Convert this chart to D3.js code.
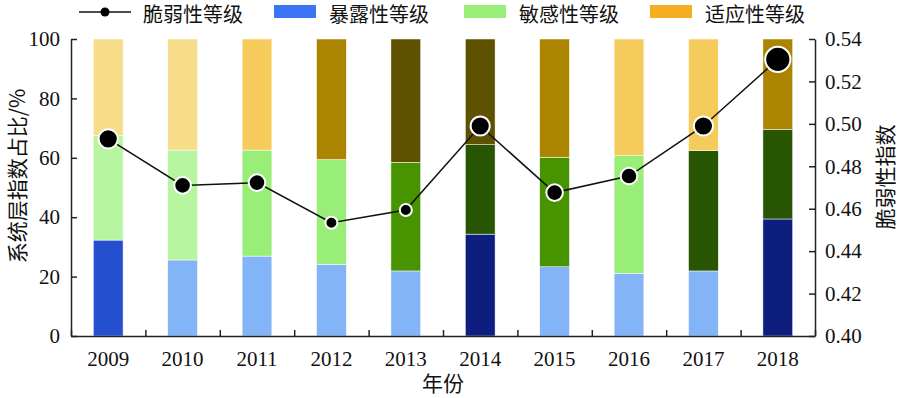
<!DOCTYPE html>
<html>
<head>
<meta charset="utf-8">
<script src="https://cdn.jsdelivr.net/npm/d3@7"></script>
<style>
  body { margin: 0; background: #fff; }
  svg { display: block; }
  .axis text { font-family: "Liberation Serif", "Times New Roman", serif; font-size: 21px; fill: #111; }
  .axis path, .axis line { stroke: #222; stroke-width: 1.5px; }
  .cjk { font-family: "Noto Sans CJK SC", sans-serif; fill: #111; }
</style>
</head>
<body>
<div id="chart"></div>
<script>
// data
const years = ['2009', '2010', '2011', '2012', '2013', '2014', '2015', '2016', '2017', '2018'];
const exposure    = [32.3, 25.6, 26.9, 24.1, 21.9, 34.3, 23.3, 21.1, 21.9, 39.4];
const sensitivity = [35.3, 37.0, 35.7, 35.3, 36.6, 30.1, 36.9, 39.6, 40.5, 30.2];
const adaptation  = [32.4, 37.4, 37.4, 40.6, 41.5, 35.6, 39.8, 39.3, 37.6, 30.4];
// grade (1 = lowest) of each component per year
const exposureLevel    = [3, 2, 2, 2, 2, 4, 2, 2, 2, 4];
const sensitivityLevel = [1, 1, 2, 2, 3, 4, 3, 2, 4, 4];
const adaptationLevel  = [1, 1, 2, 3, 4, 4, 3, 2, 2, 3];
const vulnerability      = [0.4929, 0.4710, 0.4723, 0.4534, 0.4594, 0.4990, 0.4676, 0.4754, 0.4990, 0.5304];
const vulnerabilityLevel = [3, 2, 2, 1, 1, 3, 2, 2, 3, 4];
const leftTicks  = [0, 20, 40, 60, 80, 100];
const rightTicks = [0.40, 0.42, 0.44, 0.46, 0.48, 0.50, 0.52, 0.54];

const seriesNames = ['脆弱性等级', '暴露性等级', '敏感性等级', '适应性等级'];

const W = 900, H = 398;
const margin = {top: 39, right: 85, bottom: 62, left: 71};
const width = W - margin.left - margin.right;
const height = H - margin.top - margin.bottom;

const palette = {
  exposure:    ['#b9d4fb', '#84b4f8', '#2450cf', '#0d1e7e'],
  sensitivity: ['#b8f5a0', '#99ee77', '#479400', '#285502'],
  adaptation:  ['#f7dc8a', '#f5cb5c', '#ab8500', '#5e5100']
};
const legendColors = ['#000', '#3b74f5', '#99ee77', '#f5ae20'];
const markerR = [0, 6, 8.3, 9.6, 12.6];

const svg = d3.select('#chart').append('svg')
  .attr('width', W).attr('height', H);
const g = svg.append('g')
  .attr('transform', `translate(${margin.left},${margin.top})`);

const x = d3.scaleBand()
  .domain(years)
  .range([0, width])
  .paddingInner(0.6)
  .paddingOuter(0.3);
const xb = d3.scaleBand().domain(years).range([0, width]);   // for the labels
const y = d3.scaleLinear().domain([0, 100]).range([height, 0]);
const y2 = d3.scaleLinear().domain([0.40, 0.54]).range([height, 0]);

// stacked bars
const rows = years.map((yr, i) => ({
  year: yr,
  parts: [
    {v: exposure[i], c: palette.exposure[exposureLevel[i] - 1]},
    {v: sensitivity[i], c: palette.sensitivity[sensitivityLevel[i] - 1]},
    {v: adaptation[i], c: palette.adaptation[adaptationLevel[i] - 1]}
  ]
}));
rows.forEach(r => {
  let acc = 0;
  r.parts.forEach(p => { p.y0 = acc; acc += p.v; p.y1 = Math.min(acc, 100); });
});

g.selectAll('g.bar')
  .data(rows)
  .enter().append('g')
  .attr('class', 'bar')
  .selectAll('rect')
  .data(d => d.parts.map(p => Object.assign({year: d.year}, p)))
  .enter().append('rect')
  .attr('x', d => x(d.year))
  .attr('width', x.bandwidth())
  .attr('y', d => y(d.y1))
  .attr('height', d => y(d.y0) - y(d.y1))
  .attr('fill', d => d.c)
  .attr('stroke', '#fff')
  .attr('stroke-width', 0.5);

// axes
g.append('g')
  .attr('class', 'axis')
  .attr('transform', `translate(0,${height})`)
  .call(d3.axisBottom(xb).tickSize(0).tickPadding(15))
  .call(a => a.select('.domain').remove());

// category boundary ticks
g.append('g')
  .attr('class', 'axis')
  .attr('transform', `translate(0,${height})`)
  .call(d3.axisBottom(d3.scaleLinear().domain([0, years.length]).range([0, width]))
    .tickValues(d3.range(0, years.length + 1))
    .tickSizeInner(-6).tickSizeOuter(0).tickFormat(''));

g.append('g')
  .attr('class', 'axis')
  .call(d3.axisLeft(y).tickValues(leftTicks).tickSizeInner(-6).tickSizeOuter(0).tickPadding(11));

g.append('g')
  .attr('class', 'axis')
  .attr('transform', `translate(${width},0)`)
  .call(d3.axisRight(y2).tickValues(rightTicks).tickFormat(d3.format('.2f'))
    .tickSizeInner(-6).tickSizeOuter(0).tickPadding(10));

// vulnerability line
const pts = years.map((yr, i) => ({year: yr, v: vulnerability[i], lv: vulnerabilityLevel[i]}));
g.append('path')
  .datum(pts)
  .attr('fill', 'none')
  .attr('stroke', '#111')
  .attr('stroke-width', 1.5)
  .attr('d', d3.line().x(d => x(d.year) + x.bandwidth() / 2).y(d => y2(d.v)));

g.selectAll('circle.pt')
  .data(pts)
  .enter().append('circle')
  .attr('class', 'pt')
  .attr('cx', d => x(d.year) + x.bandwidth() / 2)
  .attr('cy', d => y2(d.v))
  .attr('r', d => markerR[d.lv])
  .attr('fill', '#000')
  .attr('stroke', '#fff')
  .attr('stroke-width', 2);

// axis titles
svg.append('text')
  .attr('class', 'cjk')
  .attr('x', margin.left + width / 2)
  .attr('y', 391)
  .attr('text-anchor', 'middle')
  .style('font-size', '21px')
  .text('年份');

svg.append('text')
  .attr('class', 'cjk')
  .attr('transform', 'translate(16,176) rotate(-90)')
  .attr('text-anchor', 'middle')
  .attr('dominant-baseline', 'central')
  .style('font-size', '21px')
  .text('系统层指数占比/%');

svg.append('text')
  .attr('class', 'cjk')
  .attr('transform', 'translate(884,177) rotate(-90)')
  .attr('text-anchor', 'middle')
  .attr('dominant-baseline', 'central')
  .style('font-size', '21px')
  .text('脆弱性指数');

// legend
const legendX = [79, 274, 464, 650];
const legend = svg.append('g');
seriesNames.forEach((name, i) => {
  const lx = legendX[i];
  if (i === 0) {
    legend.append('line')
      .attr('x1', lx).attr('x2', lx + 52).attr('y1', 12).attr('y2', 12)
      .attr('stroke', '#111').attr('stroke-width', 1.5);
    legend.append('circle')
      .attr('cx', lx + 26).attr('cy', 12).attr('r', 4.5).attr('fill', '#000');
  } else {
    legend.append('rect')
      .attr('x', lx).attr('y', 5).attr('width', 42).attr('height', 13)
      .attr('fill', legendColors[i]);
  }
  legend.append('text')
    .attr('class', 'cjk')
    .attr('x', lx + (i === 0 ? 64 : 55))
    .attr('y', 13)
    .attr('dominant-baseline', 'central')
    .style('font-size', '20px')
    .text(name);
});
</script>
</body>
</html>
